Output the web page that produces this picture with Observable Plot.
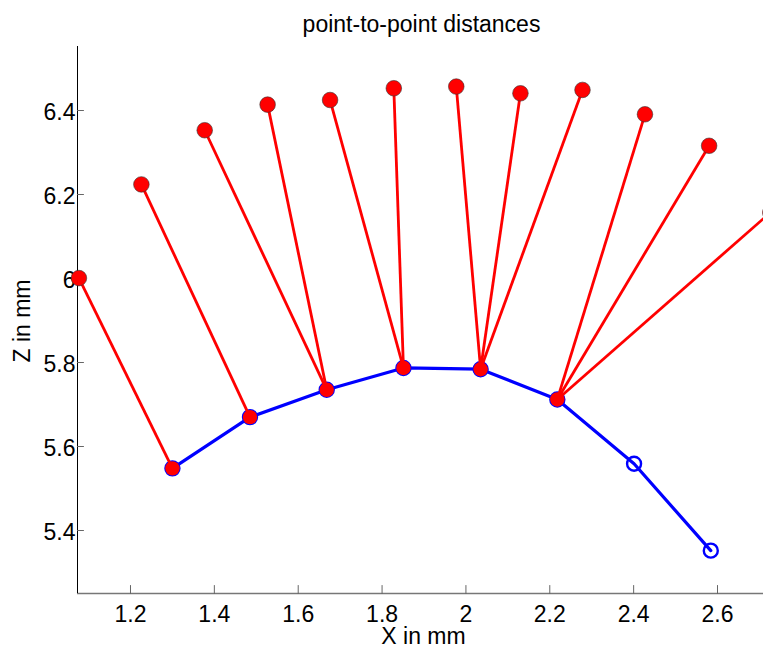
<!DOCTYPE html>
<html>
<head>
<meta charset="utf-8">
<script src="https://cdn.jsdelivr.net/npm/d3@7"></script>
<script src="https://cdn.jsdelivr.net/npm/@observablehq/plot@0.6"></script>
<style>
  html, body { margin: 0; padding: 0; background: #fff; }
  #chart { width: 763px; height: 649px; overflow: hidden; }
</style>
</head>
<body>
<div id="chart"></div>
<script>
// ---- data ----
const titleText = "point-to-point distances";
const xLabel = "X in mm";
const yLabel = "Z in mm";

const xDomain = [1.0736, 2.7097];
const yDomain = [5.25, 6.5524];
const xTicks = [1.2, 1.4, 1.6, 1.8, 2.0, 2.2, 2.4, 2.6];
const yTicks = [5.4, 5.6, 5.8, 6.0, 6.2, 6.4];

// blue curve (lower points)
const blueX = [1.300, 1.485, 1.668, 1.851, 2.035, 2.218, 2.401, 2.584];
const blueZ = [5.548, 5.670, 5.735, 5.787, 5.784, 5.712, 5.559, 5.352];

// red upper points
const redX = [1.077, 1.226, 1.377, 1.527, 1.676, 1.828, 1.977, 2.130, 2.278, 2.427, 2.580, 2.726];
const redZ = [6.001, 6.224, 6.353, 6.414, 6.425, 6.453, 6.457, 6.441, 6.449, 6.391, 6.316, 6.157];
// index of the blue point each red point is linked to
const matchIdx = [0, 1, 2, 2, 3, 3, 4, 4, 4, 5, 5, 5];

// ---- tables built from the arrays ----
const blue = blueX.map((x, i) => ({x, z: blueZ[i]}));
const red = redX.map((x, i) => ({x, z: redZ[i]}));
const links = red.map((r, i) => ({x1: r.x, z1: r.z, x2: blue[matchIdx[i]].x, z2: blue[matchIdx[i]].z}));
const matched = Array.from(new Set(matchIdx)).map(i => blue[i]);

const inwardTickUp = {draw(context, l) { context.moveTo(0, 0); context.lineTo(0, -l); }};

const font = "'Liberation Sans', Arial, Helvetica, sans-serif";

const chart = Plot.plot({
  width: 763,
  height: 649,
  marginLeft: 77,
  marginRight: 0,
  marginTop: 46,
  marginBottom: 56,
  style: {fontFamily: font, fontSize: "23px", color: "#000", background: "#fff", overflow: "hidden"},
  x: {domain: xDomain},
  y: {domain: yDomain},
  marks: [
    // axis lines
    Plot.ruleY([yDomain[0]], {stroke: "#777", strokeWidth: 1.6}),
    Plot.ruleX([xDomain[0]], {stroke: "#000", strokeWidth: 1}),
    // inward ticks
    Plot.vector(xTicks, {x: d => d, y: () => yDomain[0], length: 8, rotate: 0, anchor: "start", shape: inwardTickUp, stroke: "#666", strokeWidth: 1}),
    Plot.vector(yTicks, {x: () => xDomain[0], y: d => d, length: 6, rotate: 90, anchor: "start", shape: inwardTickUp, stroke: "#666", strokeWidth: 1}),
    // tick labels
    Plot.axisX({ticks: xTicks, tickSize: 0, tickPadding: 12, tickFormat: d => String(d), label: null, fontSize: 23}),
    Plot.axisY({ticks: yTicks, tickSize: 0, tickPadding: 2, dy: 2.5, tickFormat: d => String(d), label: null, fontSize: 23}),
    // axis titles and chart title
    Plot.text([xLabel], {frameAnchor: "bottom", lineAnchor: "middle", textAnchor: "middle", dx: 3, dy: 43, fontSize: 23, fill: "#000"}),
    Plot.text([yLabel], {frameAnchor: "left", lineAnchor: "middle", textAnchor: "middle", dx: -55, dy: 1, rotate: -90, fontSize: 23, fill: "#000"}),
    Plot.text([titleText], {frameAnchor: "top", lineAnchor: "middle", textAnchor: "middle", dx: 1, dy: -22, fontSize: 23, fill: "#000"}),
    // blue curve
    Plot.line(blue, {x: "x", y: "z", stroke: "#0000ff", strokeWidth: 3.2}),
    Plot.dot(blue, {x: "x", y: "z", r: 7, stroke: "#0000ff", strokeWidth: 2.4, fill: "none"}),
    // red links
    Plot.link(links, {x1: "x1", y1: "z1", x2: "x2", y2: "z2", stroke: "#ff0000", strokeWidth: 2.8, clip: "frame"}),
    // red dots
    Plot.dot(red, {x: "x", y: "z", r: 7.8, fill: "#ff0000", stroke: "#333", strokeWidth: 0.6}),
    Plot.dot(matched, {x: "x", y: "z", r: 7.2, fill: "#ff0000", stroke: "none"})
  ]
});

document.getElementById("chart").appendChild(chart);
</script>
</body>
</html>
